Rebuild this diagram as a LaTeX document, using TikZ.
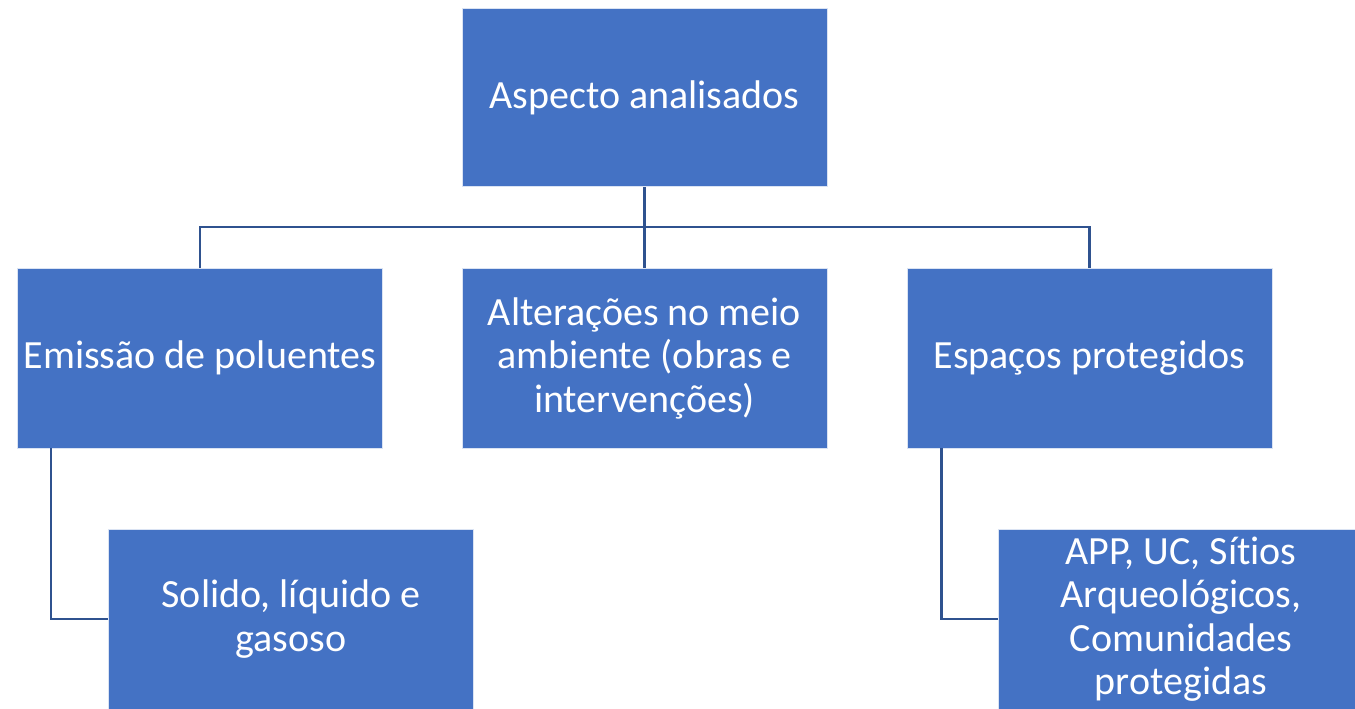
\documentclass[tikz,border=0pt]{standalone}
\usepackage{fontspec}
\setmainfont[Ligatures={NoCommon}]{Carlito}
\usetikzlibrary{positioning}
\definecolor{boxblue}{HTML}{4472C4}
\definecolor{linkblue}{HTML}{2F528F}

\begin{document}
\begin{tikzpicture}[x=0.75pt, y=-0.75pt,
    box/.style={rectangle, fill=boxblue, draw=white!80!boxblue, line width=0.6pt,
        text=white, align=center, inner sep=0pt,
        minimum width=273.75pt, minimum height=135pt,
        font=\fontsize{30}{32.6}\selectfont},
    link/.style={linkblue, line width=1.8pt}]

% Fix the page size
\useasboundingbox (0,0) rectangle (1355,708);

% Top box
\node[box, minimum height=134pt] (aspecto) at (644.5,97.5) {Aspecto analisados};

% Middle row
\node[box] (emissao) at (200,358) {Emissão de poluentes};
\node[box] (alter) at (644.5,358) {Alterações no meio\\ambiente (obras e\\intervenções)};
\node[box] (espacos) at (1089.5,358) {Espaços protegidos};

% Bottom row (partly off the page)
\node[box] (solido) at (291,619) {Solido, líquido e\\gasoso};
\clip (0,0) rectangle (1355,708);
\node[box] (app) at (1181,619) {APP, UC, Sítios\\Arqueológicos,\\Comunidades\\protegidas};

% Connectors from the top box
\foreach \n in {emissao,alter,espacos}
  \draw[link] (aspecto.south) -- ++(0,40) -| (\n.north);

% Side connectors
\draw[link] (emissao.south west) ++(34,0) |- (solido.west);
\draw[link] (espacos.south west) ++(35,0) |- (app.west);

\end{tikzpicture}
\end{document}
